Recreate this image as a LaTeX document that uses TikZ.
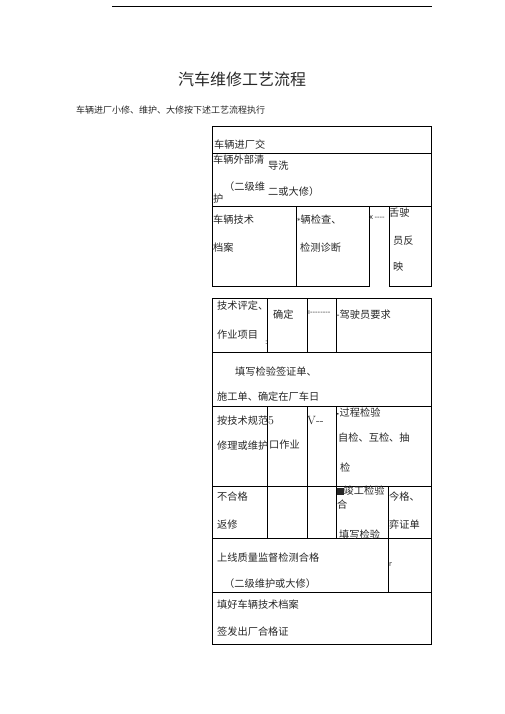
\documentclass[tikz,border=0pt]{standalone}
\usepackage{fontspec}
\newfontfamily\cjk{Noto Sans CJK SC}
\newfontfamily\dvs{DejaVu Sans}
\begin{document}
\begin{tikzpicture}[x=1pt,y=-1pt,
  grid/.style={line width=0.9pt, draw=black},
  txt/.style={anchor=west, inner sep=0pt, font=\cjk\fontsize{10.2}{12}\selectfont, text=black!85},
  small/.style={anchor=west, inner sep=0pt, font=\dvs\fontsize{7}{8}\selectfont, text=black!85}]
\useasboundingbox (0,0) rectangle (505,714);
% top rule
\draw[line width=0.8pt] (112,6) -- (432,6);
\node[anchor=center, inner sep=0pt, font=\cjk\fontsize{16}{18}\selectfont, text=black!85] (title) at (242,79) {汽车维修工艺流程};
\node[anchor=west, inner sep=0pt, font=\cjk\fontsize{9}{11}\selectfont, text=black!85] (sub) at (76,110) {车辆进厂小修、维护、大修按下述工艺流程执行};
% group 1
\draw[grid] (212,126) rectangle (431,206);
\draw[grid] (212,153) -- (431,153);
\draw[grid] (212,206) rectangle (296,286);
\draw[grid] (296,206) rectangle (369,286);
\draw[grid] (389,206) rectangle (431,286);
% group 2
\draw[grid] (212,298) rectangle (431,644);
\foreach \y in {352,406,486,538,592} \draw[grid] (212,\y) -- (431,\y);
\foreach \x in {267,307,336} {\draw[grid] (\x,298) -- (\x,352); \draw[grid] (\x,406) -- (\x,538);}
\draw[grid] (388,486) -- (388,592);
% texts group 1
\node[txt] (t1) at (214,145) {车辆进厂交};
\node[txt] (t2) at (213,160) {车辆外部清};
\node[txt] (t3) at (268,166) {导洗};
\node[txt] (t4) at (224,187) {（二级维};
\node[txt] (t5) at (268,192) {二或大修）};
\node[txt] (t6) at (213,199) {护};
\node[txt] (t7) at (213,220) {车辆技术};
\node[txt] (t8) at (213,248) {档案};
\node[txt] (t9) at (297,220) {{\dvs\fontsize{7}{7}\selectfont*}辆检查、};
\node[txt] (t10) at (300,248) {检测诊断};
\node[small] (arr1) at (369,218) {x\,----};
\node[txt] (t11) at (389,213) {舌驶};
\node[txt] (t12) at (393,241) {员反};
\node[txt] (t13) at (393,267) {映};
% texts group 2
\node[txt] (u1) at (217,306) {技术评定、};
\node[txt] (u2) at (217,335) {作业项目};
\node[small] (u3) at (265,343) {:};
\node[txt] (u4) at (273,315) {确定};
\node[small] (arr2) at (308,313) {ı--------};
\node[txt] (u5) at (336,315) {-驾驶员要求};
\node[txt] (u6) at (235,372) {填写检验签证单、};
\node[txt] (u7) at (217,397) {施工单、确定在厂车日};
\node[txt] (u8) at (217,421) {按技术规范};
\node[txt, font=\fontsize{12}{13}\selectfont] (u9) at (268,421) {5};
\node[txt, font=\fontsize{12}{13}\selectfont] (u10) at (307,421) {V{-}{-}};
\node[txt] (u11) at (336,413) {{\dvs\fontsize{6}{7}\selectfont •}过程检验};
\node[txt] (u12) at (338,438) {自检、互检、抽};
\node[txt] (u13) at (217,446) {修理或维护};
\node[txt] (u14) at (269,445) {口作业};
\node[txt] (u15) at (340,468) {检};
\node[txt] (u16) at (217,497) {不合格};
\node[txt] (u17) at (217,525) {返修};
\node[txt] (u18) at (337,491) {\rule{6.5pt}{6.5pt}竣工检验};
\node[txt] (u19) at (337,505) {合};
\node[txt] (u20) at (339,535) {填写检验};
\node[txt] (u21) at (389,497) {今格、};
\node[txt] (u22) at (389,525) {弈证单};
\node[txt] (u23) at (217,558) {上线质量监督检测合格};
\node[txt] (u24) at (224,584) {（二级维护或大修）};
\node[small] (u25) at (389,565) {r};
\node[txt] (u26) at (217,605) {填好车辆技术档案};
\node[txt] (u27) at (217,632) {签发出厂合格证};
\end{tikzpicture}
\end{document}
